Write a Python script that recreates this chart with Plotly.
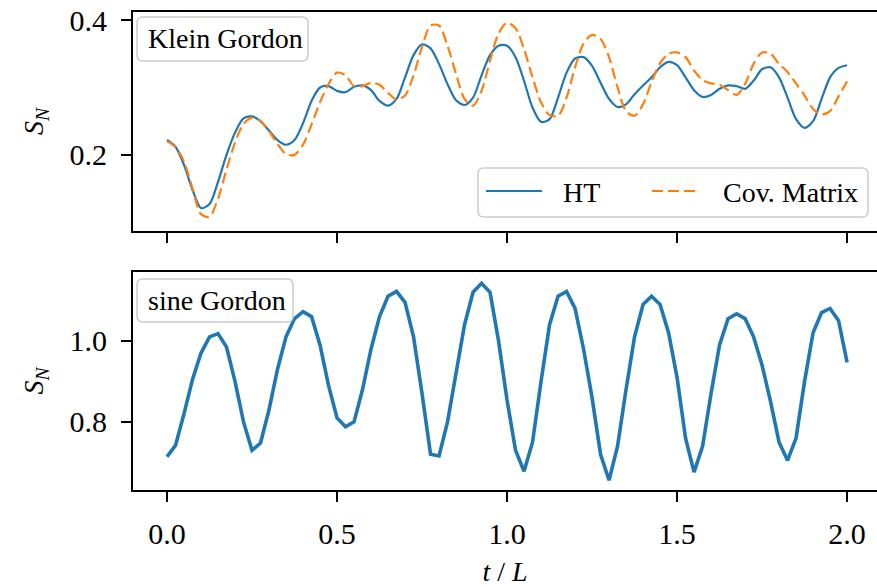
import plotly.graph_objects as go

# ---------------- data ----------------
t = [i / 40 for i in range(81)]  # t/L sampling grid, 0 .. 2

kg_ht = [0.222, 0.212, 0.185, 0.148, 0.121, 0.127, 0.160, 0.200, 0.233, 0.254,
         0.257, 0.250, 0.236, 0.222, 0.215, 0.222, 0.247, 0.280, 0.300, 0.302,
         0.295, 0.293, 0.301, 0.303, 0.296, 0.280, 0.273, 0.283, 0.315, 0.348,
         0.364, 0.358, 0.335, 0.305, 0.281, 0.274, 0.285, 0.318, 0.348, 0.362,
         0.362, 0.345, 0.310, 0.270, 0.249, 0.253, 0.285, 0.322, 0.343, 0.345,
         0.332, 0.307, 0.283, 0.271, 0.275, 0.290, 0.303, 0.315, 0.330, 0.338,
         0.333, 0.315, 0.296, 0.286, 0.289, 0.298, 0.303, 0.302, 0.298, 0.310,
         0.327, 0.330, 0.315, 0.285, 0.253, 0.240, 0.250, 0.283, 0.315, 0.329,
         0.333]

kg_cov = [0.220, 0.212, 0.190, 0.150, 0.112, 0.108, 0.135, 0.178, 0.218, 0.246,
          0.255, 0.250, 0.235, 0.216, 0.201, 0.200, 0.215, 0.245, 0.278, 0.305,
          0.322, 0.318, 0.302, 0.302, 0.307, 0.304, 0.292, 0.282, 0.288, 0.318,
          0.360, 0.392, 0.392, 0.362, 0.320, 0.283, 0.273, 0.295, 0.340, 0.380,
          0.396, 0.388, 0.357, 0.315, 0.278, 0.259, 0.258, 0.285, 0.330, 0.365,
          0.378, 0.372, 0.345, 0.300, 0.265, 0.258, 0.275, 0.308, 0.336, 0.350,
          0.352, 0.345, 0.325, 0.311, 0.306, 0.304, 0.296, 0.289, 0.305, 0.335,
          0.352, 0.350, 0.335, 0.323, 0.306, 0.288, 0.268, 0.260, 0.265, 0.287,
          0.309]

sg_ht = [0.714, 0.742, 0.820, 0.905, 0.970, 1.010, 1.018, 0.985, 0.900, 0.800,
         0.730, 0.748, 0.830, 0.930, 1.010, 1.055, 1.072, 1.060, 0.990, 0.890,
         0.810, 0.788, 0.800, 0.880, 0.980, 1.060, 1.110, 1.122, 1.095, 1.010,
         0.870, 0.720, 0.716, 0.800, 0.920, 1.040, 1.120, 1.142, 1.120, 1.000,
         0.854, 0.730, 0.678, 0.750, 0.900, 1.040, 1.110, 1.122, 1.080, 0.980,
         0.860, 0.720, 0.656, 0.740, 0.880, 1.010, 1.090, 1.110, 1.090, 1.020,
         0.910, 0.760, 0.676, 0.740, 0.870, 0.990, 1.055, 1.067, 1.055, 1.010,
         0.940, 0.850, 0.750, 0.705, 0.760, 0.900, 1.020, 1.070, 1.080, 1.050,
         0.947]

x_ticks = [0.0, 0.5, 1.0, 1.5, 2.0]
y_ticks_top = [0.2, 0.4]
y_ticks_bot = [0.8, 1.0]
panel_labels = ["Klein Gordon", "sine Gordon"]
series_names = ["HT", "Cov. Matrix"]

BLUE = "#1f77b4"
ORANGE = "#ff7f0e"
FONT = "Liberation Serif"
FS = 28      # legend / label text
TFS = 30     # tick labels

# ---------------- geometry (pixels) ----------------
W, H = 877, 587
L, R, T, B = 133, 0, 12, 97
PW = W - L - R
PH = H - T - B


def pp(px, py):
    return (px - L) / PW, (H - B - py) / PH


def rbox(x0, y0, x1, y1, r=6):
    pts = [("M", x0 + r, y0), ("L", x1 - r, y0), ("Q", x1, y0, x1, y0 + r),
           ("L", x1, y1 - r), ("Q", x1, y1, x1 - r, y1), ("L", x0 + r, y1),
           ("Q", x0, y1, x0, y1 - r), ("L", x0, y0 + r), ("Q", x0, y0, x0 + r, y0)]
    s = ""
    for p in pts:
        cmd = p[0]
        coords = p[1:]
        parts = []
        for i in range(0, len(coords), 2):
            a, b = pp(coords[i], coords[i + 1])
            parts.append(f"{a:.5f},{b:.5f}")
        s += cmd + " ".join(parts) + " "
    return s + "Z"


fig = go.Figure()
fig.add_trace(go.Scatter(x=t, y=kg_ht, mode="lines", name=series_names[0],
                         line=dict(color=BLUE, width=2.2, shape="spline", smoothing=0.8),
                         xaxis="x", yaxis="y", showlegend=False))
fig.add_trace(go.Scatter(x=t, y=kg_cov, mode="lines", name=series_names[1],
                         line=dict(color=ORANGE, width=2.2, dash="11px,5px",
                                   shape="spline", smoothing=0.8),
                         xaxis="x", yaxis="y", showlegend=False))
fig.add_trace(go.Scatter(x=t, y=sg_ht, mode="lines", name=series_names[0],
                         line=dict(color=BLUE, width=3.6), xaxis="x2", yaxis="y2",
                         showlegend=False))

axis_common = dict(showline=True, linecolor="black", linewidth=2, ticks="outside",
                   ticklen=10, tickwidth=1.8, tickcolor="black", showgrid=False,
                   zeroline=False,
                   tickfont=dict(family=FONT, size=TFS, color="black"))

top_dom = [1 - 219 / PH, 1]
bot_dom = [0, 218 / PH]

ytitle = dict(text="<i>S</i><sub><i>N</i></sub>", standoff=18,
              font=dict(family=FONT, size=FS, color="black"))

fig.update_layout(
    width=W, height=H,
    margin=dict(l=L, r=R, t=T, b=B, autoexpand=False),
    paper_bgcolor="white", plot_bgcolor="white",
    font=dict(family=FONT, size=FS, color="black"),
    xaxis=dict(domain=[0, 1], range=[-0.1, 2.088], anchor="y", tickvals=x_ticks,
               showticklabels=False, mirror=True, **axis_common),
    yaxis=dict(domain=top_dom, range=[0.087, 0.412], anchor="x", tickvals=y_ticks_top,
               tickformat=".1f", ticklabelstandoff=8, title=ytitle, **axis_common),
    xaxis2=dict(domain=[0, 1], range=[-0.1, 2.088], anchor="y2", tickvals=x_ticks,
                tickformat=".1f", mirror=True, ticklabelstandoff=6,
                title=dict(text="<i>t</i> / <i>L</i>", standoff=20,
                           font=dict(family=FONT, size=FS, color="black")),
                **axis_common),
    yaxis2=dict(domain=bot_dom, range=[0.632, 1.170], anchor="x2", tickvals=y_ticks_bot,
                tickformat=".1f", ticklabelstandoff=8, title=ytitle, **axis_common),
)

shapes = []
annotations = []
box_line = dict(color="#cccccc", width=1.5)

# panel label boxes
for (bx0, by0, bx1, by1, ty), label in zip([(137, 17, 308, 61, 39), (137, 279, 293, 322, 300)],
                                           panel_labels):
    shapes.append(dict(type="path", xref="paper", yref="paper", path=rbox(bx0, by0, bx1, by1),
                       fillcolor="rgba(255,255,255,0.8)", line=box_line, layer="above"))
    ax, ay = pp(146, ty)
    annotations.append(dict(xref="paper", yref="paper", x=ax, y=ay, text=label,
                            showarrow=False, xanchor="left", yanchor="middle",
                            font=dict(family=FONT, size=FS, color="black")))

# legend box (top panel)
shapes.append(dict(type="path", xref="paper", yref="paper", path=rbox(478, 168, 868, 217),
                   fillcolor="rgba(255,255,255,0.8)", line=box_line, layer="above"))
lx0, ly = pp(486, 191)
lx1, _ = pp(542, 191)
shapes.append(dict(type="line", xref="paper", yref="paper", x0=lx0, x1=lx1, y0=ly, y1=ly,
                   line=dict(color=BLUE, width=2.2), layer="above"))
lx0, _ = pp(652, 191)
lx1, _ = pp(699, 191)
shapes.append(dict(type="line", xref="paper", yref="paper", x0=lx0, x1=lx1, y0=ly, y1=ly,
                   line=dict(color=ORANGE, width=2.2, dash="11px,5px"), layer="above"))
for txt, tx in zip(series_names, [561, 721]):
    ax, ay = pp(tx, 192)
    annotations.append(dict(xref="paper", yref="paper", x=ax, y=ay, text=txt,
                            showarrow=False, xanchor="left", yanchor="middle",
                            font=dict(family=FONT, size=FS, color="black")))

fig.update_layout(shapes=shapes, annotations=annotations)
fig.write_html("out.html")
